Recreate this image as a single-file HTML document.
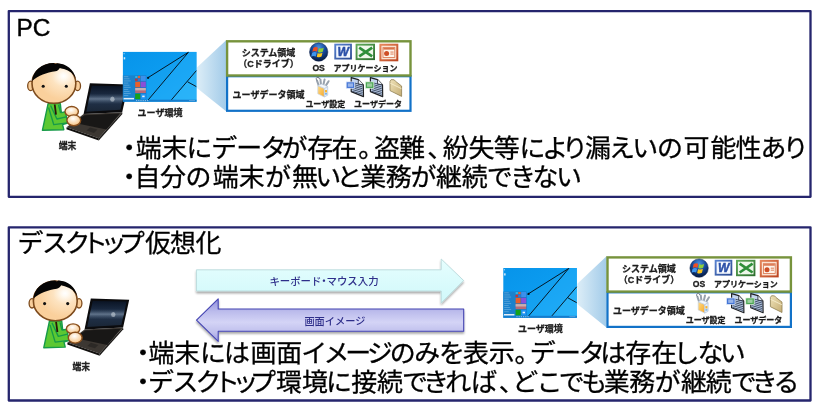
<!DOCTYPE html>
<html lang="ja"><head><meta charset="utf-8"><title>PC / デスクトップ仮想化</title>
<style>html,body{margin:0;padding:0;background:#fff;overflow:hidden}svg{display:block}</style></head>
<body>
<svg width="820" height="412" viewBox="0 0 820 412" style="will-change:transform;font-family:'Liberation Sans', 'Noto Sans CJK JP', sans-serif">
<defs>
<radialGradient id="skina" cx="0.72" cy="0.31" r="0.6"><stop offset="0" stop-color="#ffffff"/><stop offset="0.12" stop-color="#fffaf2"/><stop offset="0.45" stop-color="#fde3c0"/><stop offset="1" stop-color="#fad09c"/></radialGradient>
<radialGradient id="handa" cx="0.45" cy="0.35" r="0.6"><stop offset="0" stop-color="#ffffff"/><stop offset="1" stop-color="#f8c88c"/></radialGradient>
<linearGradient id="scra" x1="0" y1="0" x2="0" y2="1"><stop offset="0" stop-color="#0a1424"/><stop offset="0.5" stop-color="#22344e"/><stop offset="1" stop-color="#1a2636"/></linearGradient>
<linearGradient id="streaka" x1="0" y1="0" x2="0" y2="1"><stop offset="0" stop-color="#5a7088" stop-opacity="0"/><stop offset="0.5" stop-color="#9fb2c6"/><stop offset="1" stop-color="#5a7088" stop-opacity="0"/></linearGradient>
<linearGradient id="deska" x1="0" y1="0" x2="1" y2="1"><stop offset="0" stop-color="#0794ea"/><stop offset="0.5" stop-color="#0c9cf0"/><stop offset="1" stop-color="#1eaaf6"/></linearGradient>
<linearGradient id="conea" x1="0" y1="0" x2="1" y2="0"><stop offset="0" stop-color="#dcedf7"/><stop offset="1" stop-color="#a2cbe9"/></linearGradient>
<linearGradient id="wordga" x1="0" y1="0" x2="1" y2="1"><stop offset="0" stop-color="#5b86d4"/><stop offset="1" stop-color="#27458c"/></linearGradient><linearGradient id="xlsga" x1="0" y1="0" x2="1" y2="1"><stop offset="0" stop-color="#63ad5c"/><stop offset="1" stop-color="#2a6b2c"/></linearGradient><linearGradient id="pptga" x1="0" y1="0" x2="1" y2="1"><stop offset="0" stop-color="#e88a5e"/><stop offset="1" stop-color="#b8401c"/></linearGradient><linearGradient id="setga" x1="0" y1="0" x2="1" y2="1"><stop offset="0" stop-color="#fddc8c"/><stop offset="1" stop-color="#f7a928"/></linearGradient><linearGradient id="foldga" x1="0" y1="0" x2="1" y2="1"><stop offset="0" stop-color="#efe2b8"/><stop offset="1" stop-color="#c4ad74"/></linearGradient><radialGradient id="orba" cx="0.5" cy="0.25" r="0.8"><stop offset="0" stop-color="#4a8fe0"/><stop offset="0.45" stop-color="#164a9c"/><stop offset="1" stop-color="#041230"/></radialGradient>
<linearGradient id="arrC" x1="0" y1="0" x2="0" y2="1"><stop offset="0" stop-color="#e6fefe"/><stop offset="1" stop-color="#d0f8fa"/></linearGradient>
<linearGradient id="arrP" x1="0" y1="0" x2="0" y2="1"><stop offset="0" stop-color="#8e8edc"/><stop offset="0.3" stop-color="#bcbcec"/><stop offset="0.55" stop-color="#d4d4f6"/><stop offset="0.8" stop-color="#bebeec"/><stop offset="1" stop-color="#9c9ce0"/></linearGradient>
<filter id="sh" x="-5%" y="-20%" width="110%" height="150%"><feGaussianBlur in="SourceAlpha" stdDeviation="1.2"/><feOffset dx="0" dy="1.5"/><feComponentTransfer><feFuncA type="linear" slope="0.35"/></feComponentTransfer><feMerge><feMergeNode/><feMergeNode in="SourceGraphic"/></feMerge></filter>
</defs>
<rect width="820" height="412" fill="#fff"/>
<rect x="8.8" y="11.1" width="801.7" height="185.7" fill="#fff" stroke="#25256d" stroke-width="2.3" stroke-linejoin="round"/>
<rect x="8.8" y="227.3" width="801.7" height="173.2" fill="#fff" stroke="#25256d" stroke-width="2.3" stroke-linejoin="round"/>
<text x="16.4" y="35.5" font-size="24.4" fill="#000" stroke="#000" stroke-width="0.4">PC</text>
<text transform="scale(1.03 1)" x="16.9 40.7 62.7 79.7 97.7 115.4 140.7 165.1 189.7" y="251.8" font-size="25.2" fill="#000" stroke="#000" stroke-width="0.3">デスクトップ仮想化</text>

<g transform="translate(0,0)">
  <polygon points="83.6,114.1 122.2,112.2 98.6,138.2 66.6,127.2" fill="#3c3732"/>
  <polygon points="66.6,127.2 98.6,138.2 98.8,140.4 66.4,129.2" fill="#12100e"/>
  <polygon points="98.6,138.2 122.2,112.2 122.4,114 98.8,140.4" fill="#1c1a18"/>
  <polygon points="84.6,115.2 119.8,113.4 106.5,129.6 72.5,122.4" fill="#181716"/>
  <polygon points="86.5,130.6 94,133 97.4,129.6 90,127.4" fill="#2c2926"/>
  <polygon points="89.9,83.3 128.3,84.5 122.2,112.2 83.6,114.1" fill="#0b0b0d"/>
  <polygon points="91.8,85.7 125.7,86.3 120.4,109.8 86.3,111.7" fill="url(#scra)"/>
  <polygon points="89.9,93.6 124.2,94 122,103.8 87.9,104.2" fill="url(#streaka)" opacity="0.5"/>
  <ellipse cx="112.4" cy="99.2" rx="2.2" ry="2.6" fill="#eef3f8" opacity="0.45"/>
</g>

<g transform="translate(0,0)">
  <!-- body -->
  <path d="M48.1,103.6 L60.3,103.6 L61.3,112.6 L65.6,111.8 L66.4,117 L67.6,123 L62.6,124.6 L63.8,129.7 L42.4,130.3 Z" fill="#5cc832" stroke="#169a48" stroke-width="1.4" stroke-linejoin="round"/>
  <path d="M50.6,105.5 L56.9,119 L66.2,116.8 M48.6,107.5 L53.8,124.7 L67.4,122.9 M58.6,105 L60.6,113" fill="none" stroke="#169a48" stroke-width="1.35" stroke-linejoin="round"/>
  <path d="M54.7,104.5 L56,114.6" stroke="#2a1808" stroke-width="1.8" fill="none"/>
  <!-- ears -->
  <ellipse cx="30.6" cy="85.9" rx="2.9" ry="4.7" fill="#f9cf9c" stroke="#7d4a1c" stroke-width="1.3"/>
  <ellipse cx="77.6" cy="85.9" rx="2.9" ry="4.7" fill="#f9cf9c" stroke="#7d4a1c" stroke-width="1.3"/>
  <!-- head -->
  <ellipse cx="53.9" cy="83.5" rx="21.9" ry="19.8" fill="url(#skina)" stroke="#7d4a1c" stroke-width="1.6"/>
  <path d="M32.1,81 C32.7,70.8 42,63 53.6,63 L55.4,64 L57.2,63.2 C66.5,63.8 74,69.4 75.8,78.8 C73.4,73.8 69.5,70.4 64,69 C62,68.5 60.6,68.3 59.8,67.9 C58.8,69.7 57.2,70.8 55.4,71.3 C46.5,72.8 38.5,75.4 32.1,81 Z" fill="#050505"/>
  <circle cx="43.2" cy="86.2" r="1.55" fill="#111"/>
  <circle cx="66.3" cy="86.2" r="1.55" fill="#111"/>
  <!-- hands -->
  <ellipse cx="71.7" cy="111.5" rx="6.7" ry="5" fill="url(#handa)" stroke="#8a4f1c" stroke-width="1.4"/>
  <ellipse cx="73.8" cy="120.3" rx="6.9" ry="5.4" fill="url(#handa)" stroke="#8a4f1c" stroke-width="1.4"/>
</g>
<g transform="translate(0,0)"><polygon points="196.9,67.6 226.4,40 226.4,111.6 196.9,88" fill="url(#conea)"/><rect x="122.9" y="51.9" width="73.6" height="49.8" fill="url(#deska)"/><polygon points="146.8,78.3 188.4,52.2 146.8,101.5" fill="#1aa4f0" opacity="0.55"/><polygon points="188.4,52.2 196.5,51.9 196.5,70.5 170,101.5 146.8,101.5" fill="#22acf6" opacity="0.6"/><polygon points="196.5,70.5 196.5,101.7 170,101.5" fill="#30b8fa" opacity="0.7"/><g stroke="#04101a" stroke-width="0.95" fill="none"><path d="M147.2,78.2 L188.4,52.3"/><path d="M147,101.3 L188.4,52.3"/><path d="M170.2,101.3 L196.3,70.7"/><path d="M187.6,81.8 L196.3,86.6"/></g><circle cx="148.2" cy="77.8" r="1.1" fill="#06121c"/><rect x="122.9" y="75.4" width="12" height="24" fill="#1b82cc"/><rect x="134.9" y="75.4" width="11.4" height="24" fill="#1878c4"/><g fill="#bfe0f6" opacity="0.45"><rect x="123.8" y="76.4" width="4.5" height="0.7"/><rect x="123.8" y="78.5" width="5.7" height="0.7"/><rect x="123.8" y="80.6" width="6.9" height="0.7"/><rect x="123.8" y="82.7" width="4.5" height="0.7"/><rect x="123.8" y="84.8" width="5.7" height="0.7"/><rect x="123.8" y="86.9" width="6.9" height="0.7"/><rect x="123.8" y="89.0" width="4.5" height="0.7"/><rect x="123.8" y="91.1" width="5.7" height="0.7"/><rect x="123.8" y="93.2" width="6.9" height="0.7"/><rect x="123.8" y="95.3" width="4.5" height="0.7"/></g><rect x="135.2" y="75.9" width="2.3" height="2.3" fill="#28b8e8"/><rect x="137.9" y="75.9" width="2.3" height="2.3" fill="#e8602c"/><rect x="135.2" y="78.6" width="2.3" height="2.3" fill="#d03030"/><rect x="137.9" y="78.6" width="2.3" height="2.3" fill="#2a7be0"/><rect x="140.8" y="75.9" width="5" height="5" fill="#3a90ec"/><rect x="135.2" y="81.7" width="5" height="5.6" fill="#ea5f2a"/><rect x="140.8" y="81.7" width="5" height="5.6" fill="#8a4fd8"/><rect x="135.2" y="88" width="10.6" height="5" fill="#b86a78"/><rect x="135.2" y="88" width="10.6" height="2.4" fill="#c8b0b0"/><rect x="135.2" y="93.7" width="5" height="5.6" fill="#16a21a"/><rect x="140.8" y="93.7" width="5" height="5.6" fill="#2094f2"/><rect x="142.2" y="95.6" width="2.4" height="1.6" fill="#e8f4fc"/><rect x="122.9" y="99.7" width="73.6" height="2" fill="#167ccc"/><rect x="123.6" y="97.9" width="10.4" height="1.5" fill="#e6eef6"/><g fill="#cfe8fa" opacity="0.6"><rect x="136.0" y="100" width="1.2" height="1.1"/><rect x="138.2" y="100" width="1.2" height="1.1"/><rect x="140.4" y="100" width="1.2" height="1.1"/><rect x="142.6" y="100" width="1.2" height="1.1"/><rect x="144.8" y="100" width="1.2" height="1.1"/><rect x="147.0" y="100" width="1.2" height="1.1"/><rect x="189" y="100.1" width="6" height="0.9" opacity="0.6"/></g><rect x="123.7" y="57.2" width="1.5" height="2.2" fill="#d8ecfa"/><rect x="123.6" y="53.2" width="1" height="1" fill="#bfe0f6"/><text x="160" y="116.3" font-size="9" font-weight="bold" text-anchor="middle" fill="#1c1c1c" stroke="#1c1c1c" stroke-width="0.3" >ユーザ環境</text><rect x="227.1" y="76.2" width="183.4" height="34.6" fill="#fff" stroke="#1272c8" stroke-width="2.2"/><rect x="227.1" y="41.3" width="183.4" height="34.2" fill="#fff" stroke="#77933c" stroke-width="2.4"/><text x="268.5" y="56.0" font-size="9" font-weight="bold" text-anchor="middle" fill="#1c1c1c" stroke="#1c1c1c" stroke-width="0.3" >システム領域</text><text x="268.5" y="67.1" font-size="9" font-weight="bold" text-anchor="middle" fill="#1c1c1c" stroke="#1c1c1c" stroke-width="0.3" >（Cドライブ）</text><text x="268.5" y="97.6" font-size="9" font-weight="bold" text-anchor="middle" fill="#1c1c1c" stroke="#1c1c1c" stroke-width="0.3" >ユーザデータ領域</text><text x="318.6" y="70.8" font-size="8.6" font-weight="bold" text-anchor="middle" fill="#1c1c1c" stroke="#1c1c1c" stroke-width="0.3" >OS</text><text x="365.5" y="70.6" font-size="8" font-weight="bold" text-anchor="middle" fill="#1c1c1c" stroke="#1c1c1c" stroke-width="0.3" >アプリケーション</text><text x="325.3" y="107" font-size="8" font-weight="bold" text-anchor="middle" fill="#1c1c1c" stroke="#1c1c1c" stroke-width="0.3" >ユーザ設定</text><text x="378" y="107" font-size="8" font-weight="bold" text-anchor="middle" fill="#1c1c1c" stroke="#1c1c1c" stroke-width="0.3" >ユーザデータ</text><circle cx="318.7" cy="52" r="9.2" fill="url(#orba)" stroke="#0a1f4a" stroke-width="0.5"/><path d="M313.3,47.9 q2.3,-1.5 4.6,-0.2 l-0.95,3.9 q-2.3,-1.2 -4.6,0.2 z" fill="#ee4f24"/><path d="M318.9,48 q2.3,1.3 4.8,-0.2 l-0.95,3.9 q-2.4,1.4 -4.8,0.2 z" fill="#8ccf3c"/><path d="M312.1,52.8 q2.3,-1.5 4.6,-0.2 l-0.95,3.9 q-2.3,-1.2 -4.6,0.2 z" fill="#3f96ee"/><path d="M317.7,52.9 q2.3,1.3 4.8,-0.2 l-0.95,3.9 q-2.4,1.4 -4.8,0.2 z" fill="#fcc61c"/><rect x="334.3" y="43.7" width="17.6" height="15.8" fill="url(#wordga)"/><rect x="336.2" y="45.5" width="13.9" height="12.2" fill="#f4f8fe"/><text x="343.3" y="56.4" font-size="12.5" font-weight="bold" font-style="italic" text-anchor="middle" fill="#2b50a8" stroke="#2b50a8" stroke-width="0.5" textLength="11.4" lengthAdjust="spacingAndGlyphs" font-family="Liberation Sans, sans-serif">W</text><rect x="355.6" y="43.7" width="19.4" height="16.4" fill="url(#xlsga)"/><rect x="357.5" y="45.6" width="15.6" height="12.6" fill="#eef7ea"/><path d="M359.2,47.6 L372.2,56.4 M372.2,47.6 L359.2,56.4" stroke="#2f8f3a" stroke-width="2.7" fill="none"/><rect x="379.4" y="43.7" width="18.9" height="17.6" fill="url(#pptga)"/><rect x="381.4" y="45.7" width="14.9" height="13.6" fill="#fbe3d3"/><rect x="383" y="47.6" width="11.8" height="9.8" fill="#fdf3ea" stroke="#d9734a" stroke-width="0.8"/><rect x="383.4" y="48" width="11" height="1.6" fill="#d9734a"/><circle cx="386.6" cy="53.6" r="2.5" fill="#cf4f26"/><rect x="390.4" y="51.6" width="3.2" height="0.9" fill="#d9734a"/><rect x="390.4" y="53.6" width="3.2" height="0.9" fill="#d9734a"/><path d="M318.6,85.2 L317,80.6 M321,84.6 L320.4,79.4 M323.4,84.8 L324.6,79.4 M326,85.4 L328.6,81.2" stroke="#97a1ad" stroke-width="2" stroke-linecap="round" fill="none"/><path d="M317.2,80.4 a1.6,1.6 0 1 1 2.2,-1.4" stroke="#6e7884" stroke-width="1" fill="none"/><polygon points="317.8,85.6 324.3,88.4 324.3,97 317.8,93.8" fill="url(#setga)" stroke="#c8d4e2" stroke-width="0.7"/><polygon points="324.3,88.4 327.7,86.6 327.7,95.2 324.3,97" fill="#e4eef9" stroke="#b4c4d8" stroke-width="0.7"/><polygon points="317.8,85.6 321.4,84 327.7,86.6 324.3,88.4" fill="#f3f7fb" stroke="#b4c4d8" stroke-width="0.6"/><rect x="325" y="90" width="2" height="2.4" fill="#f6b232"/><rect x="325" y="93" width="2" height="1.6" fill="#7ab4e6"/><path d="M351.2,77.6 L358.4,79.6 L363.3,84.8 L363.5,96.6 L351.2,91.6 Z" fill="#c3d4ee" stroke="#1e2024" stroke-width="1.2" stroke-linejoin="round"/><path d="M358.4,79.6 L358.2,84 L363.3,84.8" fill="#eef2f8" stroke="#1e2024" stroke-width="0.8" stroke-linejoin="round"/><path d="M352.4,82.40 L362.6,85.20 M352.4,84.20 L362.6,87.00 M352.4,86.00 L362.6,88.80 M352.4,87.80 L362.6,90.60 M352.4,89.60 L362.6,92.40 M352.4,91.40 L362.6,94.20 " stroke="#36445c" stroke-width="0.9" fill="none"/><rect x="346.2" y="81.9" width="8.4" height="6.4" fill="#4476d6" stroke="#dfe8fa" stroke-width="0.7"/><rect x="347.8" y="83.4" width="5.2" height="3.4" fill="#dfe8fa" opacity="0.55"/><path d="M370.4,77.6 L377.59999999999997,79.6 L382.5,84.8 L382.7,96.6 L370.4,91.6 Z" fill="#c3d4ee" stroke="#1e2024" stroke-width="1.2" stroke-linejoin="round"/><path d="M377.59999999999997,79.6 L377.4,84 L382.5,84.8" fill="#eef2f8" stroke="#1e2024" stroke-width="0.8" stroke-linejoin="round"/><path d="M371.59999999999997,82.40 L381.8,85.20 M371.59999999999997,84.20 L381.8,87.00 M371.59999999999997,86.00 L381.8,88.80 M371.59999999999997,87.80 L381.8,90.60 M371.59999999999997,89.60 L381.8,92.40 M371.59999999999997,91.40 L381.8,94.20 " stroke="#36445c" stroke-width="0.9" fill="none"/><rect x="365.4" y="81.9" width="8.4" height="6.4" fill="#4aa552" stroke="#e2f3e0" stroke-width="0.7"/><rect x="367.0" y="83.4" width="5.2" height="3.4" fill="#e2f3e0" opacity="0.55"/><path d="M390,81.4 L391.2,79.6 L394.2,79.8 L395.4,81.2 L401.6,86 L401.6,96.4 L390,90.6 Z" fill="url(#foldga)" stroke="#8f7f52" stroke-width="0.8" stroke-linejoin="round"/><path d="M390.2,83.2 L401.4,88.6" stroke="#f6eccc" stroke-width="0.9" fill="none"/></g>
<text x="67.6" y="148.9" font-size="8.8" font-weight="bold" text-anchor="middle" fill="#222" stroke="#222" stroke-width="0.3" >端末</text>
<text transform="scale(1.03 1)" x="112.8 131.7 156.8 181.0 205.2 229.5 253.1 273.4 298.2 321.8 347.7 363.1 387.5 414.8 429.8 454.8 479.5 504.4 526.5 545.6 568.0 591.3 613.8 637.9 663.6 689.8 714.2 738.4 759.9" y="157.3" font-size="25.2" fill="#000" stroke="#000" stroke-width="0.3">・端末にデータが存在。盗難、紛失等により漏えいの可能性あり</text>
<text transform="scale(1.03 1)" x="112.8 130.7 155.4 180.1 206.6 231.8 257.2 283.5 306.1 326.8 349.8 374.6 398.5 423.4 448.2 472.7 495.1 517.0 539.8" y="186.0" font-size="25.2" fill="#000" stroke="#000" stroke-width="0.3">・自分の端末が無いと業務が継続できない</text>

<g transform="translate(0.9,215.3)">
  <polygon points="83.6,114.1 122.2,112.2 98.6,138.2 66.6,127.2" fill="#3c3732"/>
  <polygon points="66.6,127.2 98.6,138.2 98.8,140.4 66.4,129.2" fill="#12100e"/>
  <polygon points="98.6,138.2 122.2,112.2 122.4,114 98.8,140.4" fill="#1c1a18"/>
  <polygon points="84.6,115.2 119.8,113.4 106.5,129.6 72.5,122.4" fill="#181716"/>
  <polygon points="86.5,130.6 94,133 97.4,129.6 90,127.4" fill="#2c2926"/>
  <polygon points="89.9,83.3 128.3,84.5 122.2,112.2 83.6,114.1" fill="#0b0b0d"/>
  <polygon points="91.8,85.7 125.7,86.3 120.4,109.8 86.3,111.7" fill="url(#scra)"/>
  <polygon points="89.9,93.6 124.2,94 122,103.8 87.9,104.2" fill="url(#streaka)" opacity="0.5"/>
  <ellipse cx="112.4" cy="99.2" rx="2.2" ry="2.6" fill="#eef3f8" opacity="0.45"/>
</g>

<g transform="translate(1.4,217.4)">
  <!-- body -->
  <path d="M48.1,103.6 L60.3,103.6 L61.3,112.6 L65.6,111.8 L66.4,117 L67.6,123 L62.6,124.6 L63.8,129.7 L42.4,130.3 Z" fill="#5cc832" stroke="#169a48" stroke-width="1.4" stroke-linejoin="round"/>
  <path d="M50.6,105.5 L56.9,119 L66.2,116.8 M48.6,107.5 L53.8,124.7 L67.4,122.9 M58.6,105 L60.6,113" fill="none" stroke="#169a48" stroke-width="1.35" stroke-linejoin="round"/>
  <path d="M54.7,104.5 L56,114.6" stroke="#2a1808" stroke-width="1.8" fill="none"/>
  <!-- ears -->
  <ellipse cx="30.6" cy="85.9" rx="2.9" ry="4.7" fill="#f9cf9c" stroke="#7d4a1c" stroke-width="1.3"/>
  <ellipse cx="77.6" cy="85.9" rx="2.9" ry="4.7" fill="#f9cf9c" stroke="#7d4a1c" stroke-width="1.3"/>
  <!-- head -->
  <ellipse cx="53.9" cy="83.5" rx="21.9" ry="19.8" fill="url(#skina)" stroke="#7d4a1c" stroke-width="1.6"/>
  <path d="M32.1,81 C32.7,70.8 42,63 53.6,63 L55.4,64 L57.2,63.2 C66.5,63.8 74,69.4 75.8,78.8 C73.4,73.8 69.5,70.4 64,69 C62,68.5 60.6,68.3 59.8,67.9 C58.8,69.7 57.2,70.8 55.4,71.3 C46.5,72.8 38.5,75.4 32.1,81 Z" fill="#050505"/>
  <circle cx="43.2" cy="86.2" r="1.55" fill="#111"/>
  <circle cx="66.3" cy="86.2" r="1.55" fill="#111"/>
  <!-- hands -->
  <ellipse cx="71.7" cy="111.5" rx="6.7" ry="5" fill="url(#handa)" stroke="#8a4f1c" stroke-width="1.4"/>
  <ellipse cx="73.8" cy="120.3" rx="6.9" ry="5.4" fill="url(#handa)" stroke="#8a4f1c" stroke-width="1.4"/>
</g>
<g transform="translate(380.4,216.1)"><polygon points="196.9,67.6 226.4,40 226.4,111.6 196.9,88" fill="url(#conea)"/><rect x="122.9" y="51.9" width="73.6" height="49.8" fill="url(#deska)"/><polygon points="146.8,78.3 188.4,52.2 146.8,101.5" fill="#1aa4f0" opacity="0.55"/><polygon points="188.4,52.2 196.5,51.9 196.5,70.5 170,101.5 146.8,101.5" fill="#22acf6" opacity="0.6"/><polygon points="196.5,70.5 196.5,101.7 170,101.5" fill="#30b8fa" opacity="0.7"/><g stroke="#04101a" stroke-width="0.95" fill="none"><path d="M147.2,78.2 L188.4,52.3"/><path d="M147,101.3 L188.4,52.3"/><path d="M170.2,101.3 L196.3,70.7"/><path d="M187.6,81.8 L196.3,86.6"/></g><circle cx="148.2" cy="77.8" r="1.1" fill="#06121c"/><rect x="122.9" y="75.4" width="12" height="24" fill="#1b82cc"/><rect x="134.9" y="75.4" width="11.4" height="24" fill="#1878c4"/><g fill="#bfe0f6" opacity="0.45"><rect x="123.8" y="76.4" width="4.5" height="0.7"/><rect x="123.8" y="78.5" width="5.7" height="0.7"/><rect x="123.8" y="80.6" width="6.9" height="0.7"/><rect x="123.8" y="82.7" width="4.5" height="0.7"/><rect x="123.8" y="84.8" width="5.7" height="0.7"/><rect x="123.8" y="86.9" width="6.9" height="0.7"/><rect x="123.8" y="89.0" width="4.5" height="0.7"/><rect x="123.8" y="91.1" width="5.7" height="0.7"/><rect x="123.8" y="93.2" width="6.9" height="0.7"/><rect x="123.8" y="95.3" width="4.5" height="0.7"/></g><rect x="135.2" y="75.9" width="2.3" height="2.3" fill="#28b8e8"/><rect x="137.9" y="75.9" width="2.3" height="2.3" fill="#e8602c"/><rect x="135.2" y="78.6" width="2.3" height="2.3" fill="#d03030"/><rect x="137.9" y="78.6" width="2.3" height="2.3" fill="#2a7be0"/><rect x="140.8" y="75.9" width="5" height="5" fill="#3a90ec"/><rect x="135.2" y="81.7" width="5" height="5.6" fill="#ea5f2a"/><rect x="140.8" y="81.7" width="5" height="5.6" fill="#8a4fd8"/><rect x="135.2" y="88" width="10.6" height="5" fill="#b86a78"/><rect x="135.2" y="88" width="10.6" height="2.4" fill="#c8b0b0"/><rect x="135.2" y="93.7" width="5" height="5.6" fill="#16a21a"/><rect x="140.8" y="93.7" width="5" height="5.6" fill="#2094f2"/><rect x="142.2" y="95.6" width="2.4" height="1.6" fill="#e8f4fc"/><rect x="122.9" y="99.7" width="73.6" height="2" fill="#167ccc"/><rect x="123.6" y="97.9" width="10.4" height="1.5" fill="#e6eef6"/><g fill="#cfe8fa" opacity="0.6"><rect x="136.0" y="100" width="1.2" height="1.1"/><rect x="138.2" y="100" width="1.2" height="1.1"/><rect x="140.4" y="100" width="1.2" height="1.1"/><rect x="142.6" y="100" width="1.2" height="1.1"/><rect x="144.8" y="100" width="1.2" height="1.1"/><rect x="147.0" y="100" width="1.2" height="1.1"/><rect x="189" y="100.1" width="6" height="0.9" opacity="0.6"/></g><rect x="123.7" y="57.2" width="1.5" height="2.2" fill="#d8ecfa"/><rect x="123.6" y="53.2" width="1" height="1" fill="#bfe0f6"/><text x="160" y="116.3" font-size="9" font-weight="bold" text-anchor="middle" fill="#1c1c1c" stroke="#1c1c1c" stroke-width="0.3" >ユーザ環境</text><rect x="227.1" y="76.2" width="183.4" height="34.6" fill="#fff" stroke="#1272c8" stroke-width="2.2"/><rect x="227.1" y="41.3" width="183.4" height="34.2" fill="#fff" stroke="#77933c" stroke-width="2.4"/><text x="268.5" y="56.0" font-size="9" font-weight="bold" text-anchor="middle" fill="#1c1c1c" stroke="#1c1c1c" stroke-width="0.3" >システム領域</text><text x="268.5" y="67.1" font-size="9" font-weight="bold" text-anchor="middle" fill="#1c1c1c" stroke="#1c1c1c" stroke-width="0.3" >（Cドライブ）</text><text x="268.5" y="97.6" font-size="9" font-weight="bold" text-anchor="middle" fill="#1c1c1c" stroke="#1c1c1c" stroke-width="0.3" >ユーザデータ領域</text><text x="318.6" y="70.8" font-size="8.6" font-weight="bold" text-anchor="middle" fill="#1c1c1c" stroke="#1c1c1c" stroke-width="0.3" >OS</text><text x="365.5" y="70.6" font-size="8" font-weight="bold" text-anchor="middle" fill="#1c1c1c" stroke="#1c1c1c" stroke-width="0.3" >アプリケーション</text><text x="325.3" y="107" font-size="8" font-weight="bold" text-anchor="middle" fill="#1c1c1c" stroke="#1c1c1c" stroke-width="0.3" >ユーザ設定</text><text x="378" y="107" font-size="8" font-weight="bold" text-anchor="middle" fill="#1c1c1c" stroke="#1c1c1c" stroke-width="0.3" >ユーザデータ</text><circle cx="318.7" cy="52" r="9.2" fill="url(#orba)" stroke="#0a1f4a" stroke-width="0.5"/><path d="M313.3,47.9 q2.3,-1.5 4.6,-0.2 l-0.95,3.9 q-2.3,-1.2 -4.6,0.2 z" fill="#ee4f24"/><path d="M318.9,48 q2.3,1.3 4.8,-0.2 l-0.95,3.9 q-2.4,1.4 -4.8,0.2 z" fill="#8ccf3c"/><path d="M312.1,52.8 q2.3,-1.5 4.6,-0.2 l-0.95,3.9 q-2.3,-1.2 -4.6,0.2 z" fill="#3f96ee"/><path d="M317.7,52.9 q2.3,1.3 4.8,-0.2 l-0.95,3.9 q-2.4,1.4 -4.8,0.2 z" fill="#fcc61c"/><rect x="334.3" y="43.7" width="17.6" height="15.8" fill="url(#wordga)"/><rect x="336.2" y="45.5" width="13.9" height="12.2" fill="#f4f8fe"/><text x="343.3" y="56.4" font-size="12.5" font-weight="bold" font-style="italic" text-anchor="middle" fill="#2b50a8" stroke="#2b50a8" stroke-width="0.5" textLength="11.4" lengthAdjust="spacingAndGlyphs" font-family="Liberation Sans, sans-serif">W</text><rect x="355.6" y="43.7" width="19.4" height="16.4" fill="url(#xlsga)"/><rect x="357.5" y="45.6" width="15.6" height="12.6" fill="#eef7ea"/><path d="M359.2,47.6 L372.2,56.4 M372.2,47.6 L359.2,56.4" stroke="#2f8f3a" stroke-width="2.7" fill="none"/><rect x="379.4" y="43.7" width="18.9" height="17.6" fill="url(#pptga)"/><rect x="381.4" y="45.7" width="14.9" height="13.6" fill="#fbe3d3"/><rect x="383" y="47.6" width="11.8" height="9.8" fill="#fdf3ea" stroke="#d9734a" stroke-width="0.8"/><rect x="383.4" y="48" width="11" height="1.6" fill="#d9734a"/><circle cx="386.6" cy="53.6" r="2.5" fill="#cf4f26"/><rect x="390.4" y="51.6" width="3.2" height="0.9" fill="#d9734a"/><rect x="390.4" y="53.6" width="3.2" height="0.9" fill="#d9734a"/><path d="M318.6,85.2 L317,80.6 M321,84.6 L320.4,79.4 M323.4,84.8 L324.6,79.4 M326,85.4 L328.6,81.2" stroke="#97a1ad" stroke-width="2" stroke-linecap="round" fill="none"/><path d="M317.2,80.4 a1.6,1.6 0 1 1 2.2,-1.4" stroke="#6e7884" stroke-width="1" fill="none"/><polygon points="317.8,85.6 324.3,88.4 324.3,97 317.8,93.8" fill="url(#setga)" stroke="#c8d4e2" stroke-width="0.7"/><polygon points="324.3,88.4 327.7,86.6 327.7,95.2 324.3,97" fill="#e4eef9" stroke="#b4c4d8" stroke-width="0.7"/><polygon points="317.8,85.6 321.4,84 327.7,86.6 324.3,88.4" fill="#f3f7fb" stroke="#b4c4d8" stroke-width="0.6"/><rect x="325" y="90" width="2" height="2.4" fill="#f6b232"/><rect x="325" y="93" width="2" height="1.6" fill="#7ab4e6"/><path d="M351.2,77.6 L358.4,79.6 L363.3,84.8 L363.5,96.6 L351.2,91.6 Z" fill="#c3d4ee" stroke="#1e2024" stroke-width="1.2" stroke-linejoin="round"/><path d="M358.4,79.6 L358.2,84 L363.3,84.8" fill="#eef2f8" stroke="#1e2024" stroke-width="0.8" stroke-linejoin="round"/><path d="M352.4,82.40 L362.6,85.20 M352.4,84.20 L362.6,87.00 M352.4,86.00 L362.6,88.80 M352.4,87.80 L362.6,90.60 M352.4,89.60 L362.6,92.40 M352.4,91.40 L362.6,94.20 " stroke="#36445c" stroke-width="0.9" fill="none"/><rect x="346.2" y="81.9" width="8.4" height="6.4" fill="#4476d6" stroke="#dfe8fa" stroke-width="0.7"/><rect x="347.8" y="83.4" width="5.2" height="3.4" fill="#dfe8fa" opacity="0.55"/><path d="M370.4,77.6 L377.59999999999997,79.6 L382.5,84.8 L382.7,96.6 L370.4,91.6 Z" fill="#c3d4ee" stroke="#1e2024" stroke-width="1.2" stroke-linejoin="round"/><path d="M377.59999999999997,79.6 L377.4,84 L382.5,84.8" fill="#eef2f8" stroke="#1e2024" stroke-width="0.8" stroke-linejoin="round"/><path d="M371.59999999999997,82.40 L381.8,85.20 M371.59999999999997,84.20 L381.8,87.00 M371.59999999999997,86.00 L381.8,88.80 M371.59999999999997,87.80 L381.8,90.60 M371.59999999999997,89.60 L381.8,92.40 M371.59999999999997,91.40 L381.8,94.20 " stroke="#36445c" stroke-width="0.9" fill="none"/><rect x="365.4" y="81.9" width="8.4" height="6.4" fill="#4aa552" stroke="#e2f3e0" stroke-width="0.7"/><rect x="367.0" y="83.4" width="5.2" height="3.4" fill="#e2f3e0" opacity="0.55"/><path d="M390,81.4 L391.2,79.6 L394.2,79.8 L395.4,81.2 L401.6,86 L401.6,96.4 L390,90.6 Z" fill="url(#foldga)" stroke="#8f7f52" stroke-width="0.8" stroke-linejoin="round"/><path d="M390.2,83.2 L401.4,88.6" stroke="#f6eccc" stroke-width="0.9" fill="none"/></g>
<text x="81.2" y="369.9" font-size="8.8" font-weight="bold" text-anchor="middle" fill="#222" stroke="#222" stroke-width="0.3" >端末</text>
<path d="M196.4,269.8 L441.2,269.8 L441.2,259 L463.7,280.6 L441.2,303 L441.2,291 L196.4,291 Z" fill="url(#arrC)" stroke="#b4d6d8" stroke-width="0.8" filter="url(#sh)"/>
<path d="M463.7,309 L218.2,309 L218.2,298.9 L196.5,320.1 L218.2,341.3 L218.2,331.3 L463.7,331.3 Z" fill="url(#arrP)" stroke="#4444b2" stroke-width="1.1" stroke-linejoin="round" filter="url(#sh)"/>
<text x="324" y="285.3" font-size="10.4" font-weight="500" text-anchor="middle" fill="#2e2e8a" stroke="#2e2e8a" stroke-width="0" >キーボード<tspan dx="-2.6">・</tspan><tspan dx="-2.6">マウス入力</tspan></text>
<text x="334.9" y="324.7" font-size="10.2" font-weight="500" text-anchor="middle" fill="#2e2e8a" stroke="#2e2e8a" stroke-width="0" >画面イメージ</text>
<text transform="scale(1.03 1)" x="126.2 144.2 169.3 194.1 217.4 243.2 268.2 292.6 314.0 335.1 356.3 378.5 402.3 426.3 449.4 474.5 499.6 514.3 538.8 562.2 582.8 607.1 632.3 653.9 677.3 698.9" y="362.2" font-size="25.2" fill="#000" stroke="#000" stroke-width="0.3">・端末には画面イメージのみを表示。データは存在しない</text>
<text transform="scale(1.03 1)" x="126.2 143.7 167.5 189.7 207.8 225.8 242.8 267.9 293.3 316.5 341.1 366.0 390.2 410.8 432.2 457.5 484.3 497.3 520.8 542.5 564.3 586.2 611.0 635.7 661.2 685.1 709.5 729.9 751.1" y="391.0" font-size="25.2" fill="#000" stroke="#000" stroke-width="0.3">・デスクトップ環境に接続できれば、どこでも業務が継続できる</text>
</svg>
</body></html>
